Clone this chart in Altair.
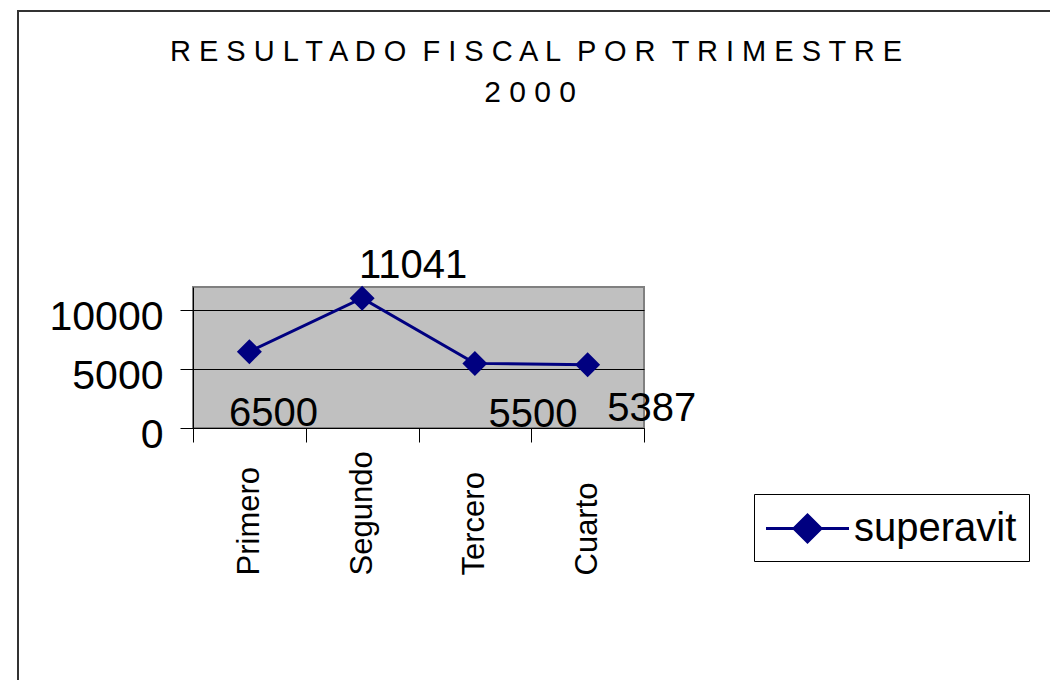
import altair as alt
import pandas as pd

# ---- data ----
trimestres = ["Primero", "Segundo", "Tercero", "Cuarto"]
superavit = [6500, 11041, 5500, 5387]
serie = "superavit"
NB = "\u00a0"
title_line1 = f"R E S U L T A D O{NB}{NB}F I S C A L{NB}{NB}P O R{NB}{NB}T R I M{NB}E S T R E"
title_line2 = "2 0 0 0"
y_ticks = [0, 5000, 10000]

df = pd.DataFrame({"trimestre": trimestres, "valor": superavit, "serie": [serie] * len(trimestres)})

FONT = "Liberation Sans"
NAVY = "#000080"
W, H = 451, 141

x_enc = alt.X("trimestre:N", sort=trimestres, title=None,
              scale=alt.Scale(paddingInner=0, paddingOuter=0),
              axis=alt.Axis(labelAngle=-90, labelAlign="left", labelBaseline="middle",
                            labelFontSize=31, labelFont=FONT, labelColor="black",
                            labelPadding=133, tickSize=14, tickColor="black",
                            domainColor="black", tickBand="extent", grid=False,
                            labelLimit=0))
y_enc = alt.Y("valor:Q", title=None,
              scale=alt.Scale(domain=[0, 12000], nice=False),
              axis=alt.Axis(values=y_ticks, labelFontSize=41, labelFont=FONT,
                            labelColor="black", labelPadding=17, labelOffset=7,
                            tickSize=13, tickColor="black", domainColor="black",
                            grid=True, gridColor="black", gridWidth=1,
                            format="d"))

legend_symbol = "M-2,0L2,0M0,-0.65L0.65,0L0,0.65L-0.65,0Z"

base = alt.Chart(df)

line = base.mark_line(strokeWidth=3).encode(
    x=x_enc, y=y_enc,
    color=alt.Color("serie:N", scale=alt.Scale(range=[NAVY]),
                    legend=alt.Legend(orient="none", legendX=561, legendY=207,
                                      title=None, symbolType=legend_symbol,
                                      symbolSize=1722, symbolStrokeWidth=3,
                                      symbolFillColor=NAVY, symbolOffset=19,
                                      labelFontSize=40, labelFont=FONT,
                                      labelColor="black", labelOffset=24,
                                      labelLimit=0, strokeColor="#000000",
                                      fillColor="white", padding=12)),
)
points = base.mark_point(shape="diamond", filled=True, size=625, opacity=1,
                         color=NAVY).encode(x=x_enc, y=y_enc)

label_offsets = [(24, 74), (51, -20), (58, 64), (64, 56)]
labels = []
for name, (dx, dy) in zip(trimestres, label_offsets):
    labels.append(
        base.transform_filter(alt.datum.trimestre == name)
        .mark_text(font=FONT, fontSize=40, color="black", align="center",
                   baseline="alphabetic", dx=dx, dy=dy)
        .encode(x=x_enc, y=y_enc, text=alt.Text("valor:Q", format="d"))
    )

frame = alt.Chart(pd.DataFrame({"k": [0]})).mark_rect(
    fill="transparent", stroke="#333333", strokeWidth=2
).encode(x=alt.value(-175), x2=alt.value(900), y=alt.value(-276), y2=alt.value(460))

t1 = alt.Chart(pd.DataFrame({"t": [title_line1]})).mark_text(
    font=FONT, fontSize=29, color="black", align="center", baseline="alphabetic"
).encode(text="t:N", x=alt.value(343), y=alt.value(-226))
t2 = alt.Chart(pd.DataFrame({"t": [title_line2]})).mark_text(
    font=FONT, fontSize=30, color="black", align="center", baseline="alphabetic"
).encode(text="t:N", x=alt.value(337), y=alt.value(-185))

chart = alt.layer(frame, line, points, *labels, t1, t2).properties(
    width=W, height=H,
    padding={"left": 185, "top": 279, "right": 406, "bottom": 252},
    autosize=alt.AutoSizeParams(type="none"),
    background="white",
).configure_view(
    fill="#C0C0C0", stroke="#808080", strokeWidth=2
)

chart.save("out.html", embed_options={"renderer": "svg", "actions": False})
